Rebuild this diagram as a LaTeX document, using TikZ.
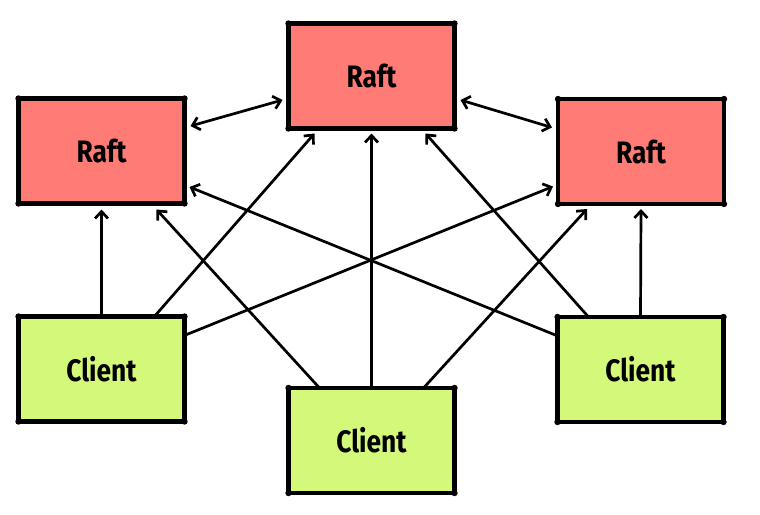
\documentclass[tikz,border=0pt]{standalone}
\usepackage{fontspec}
\newfontfamily\handfont[FakeStretch=0.85]{Fira Sans}
\usetikzlibrary{arrows.meta,calc}
\definecolor{raftred}{HTML}{FF7B76}
\definecolor{clientgreen}{HTML}{D4F97A}
\begin{document}
\begin{tikzpicture}[x=1pt,y=-1pt,
  box/.style={draw=black, line width=4.6pt, outer sep=0pt, minimum width=166pt, minimum height=105pt,
    font=\handfont\bfseries\fontsize{31}{33}\selectfont, inner sep=0pt},
  raft/.style={box, fill=raftred},
  client/.style={box, fill=clientgreen},
  conn/.style={draw=black, line width=2.7pt, -{Straight Barb[length=7pt,width=13pt]}},
  biconn/.style={conn, {Straight Barb[length=7pt,width=13pt]}-{Straight Barb[length=7pt,width=13pt]}},
  corner/.style={fill=black}
]
\useasboundingbox (0,0) rectangle (760,514);
\node[raft] (rl) at (101.5,151) {Raft};
\node[raft] (rt) at (371.5,76) {Raft};
\node[raft] (rr) at (641,151.5) {Raft};
\node[client] (cl) at (101.5,369) {Client};
\node[client] (cb) at (371.5,440.5) {Client};
\node[client] (cr) at (640.5,369.5) {Client};
\foreach \n in {rl,rt,rr,cl,cb,cr}
  \foreach \a in {north west,north east,south west,south east}
    \fill[corner] (\n.\a) circle (3.2pt);
% raft to raft
\draw[biconn] ($(rl.east)+(6,-25)$) -- ($(rt.west)+(-6,24)$);
\draw[biconn] ($(rt.east)+(6,24)$) -- ($(rr.west)+(-6,-24)$);
% client left
\draw[conn] (cl.north) -- ($(rl.south)+(0,6)$);
\draw[conn] ($(cl.north)+(52,1)$) -- ($(rt.south)+(-57,5)$);
\draw[conn] ($(cl.east)+(1,-34)$) -- ($(rr.west)+(-5,35)$);
% client bottom
\draw[conn] ($(cb.north)+(-52,0)$) -- ($(rl.south)+(55,6)$);
\draw[conn] (cb.north) -- ($(rt.south)+(0,5)$);
\draw[conn] ($(cb.north)+(52,0)$) -- ($(rr.south)+(-54,5)$);
% client right
\draw[conn] ($(cr.west)+(-1,-34)$) -- ($(rl.east)+(5,36)$);
\draw[conn] ($(cr.north)+(-52,0)$) -- ($(rt.south)+(54,5)$);
\draw[conn] (cr.north) -- ($(rr.south)+(0,5)$);
\end{tikzpicture}
\end{document}
